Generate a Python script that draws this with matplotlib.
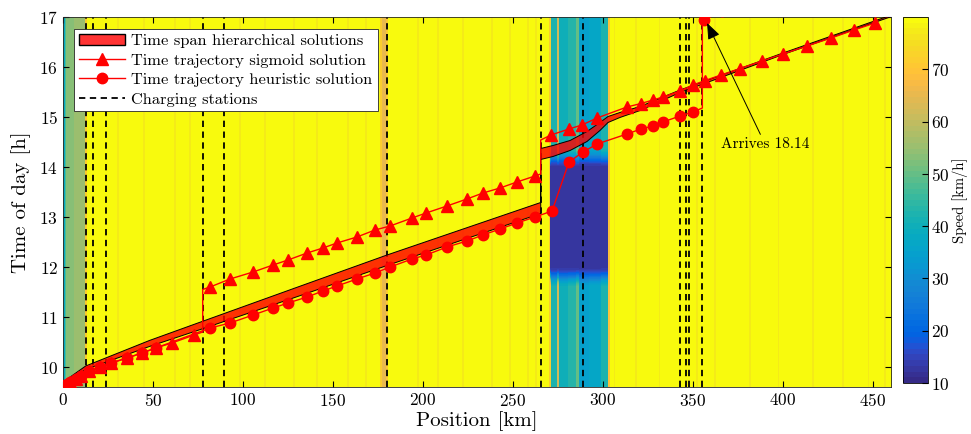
import numpy as np
import matplotlib
matplotlib.use('Agg')
import matplotlib.pyplot as plt
from matplotlib.colors import ListedColormap
from matplotlib.patches import Patch
from matplotlib.lines import Line2D

plt.rcParams['font.family'] = 'serif'
plt.rcParams['font.serif'] = ['cmr10', 'DejaVu Serif']
plt.rcParams['mathtext.fontset'] = 'cm'
plt.rcParams['axes.formatter.use_mathtext'] = True

# ---------------- data ----------------
stations_km = [12.6, 16.5, 23.7, 77.6, 89.6, 180.0, 265.4, 288.7, 342.8, 346.0, 347.5, 355.2]

# sigmoid trajectory (path incl. charging corners)
sig_km = [0, 2, 4, 7, 10, 14.4, 20.6, 26.7, 35.6, 43.9, 51.5, 60.5, 72.8,
          77.6, 77.6,
          81.7, 92.8, 105.6, 116.7, 125.0, 135.6, 144.4, 152.2, 163.3, 173.3, 181.7,
          193.9, 201.7, 213.3, 224.4, 233.3, 242.8, 252.2, 262.2,
          265.4, 265.4,
          271.1, 281.1, 288.3, 296.7, 313.3, 321.1, 327.8, 333.3, 342.8, 350.0,
          356.7, 365.6, 376.1, 388.3, 400.0, 413.3, 426.7, 439.4, 451.1]
sig_t = [9.62, 9.66, 9.70, 9.76, 9.82, 9.92, 10.00, 10.08, 10.18, 10.28, 10.38, 10.48, 10.64,
         10.70, 11.55,
         11.60, 11.76, 11.90, 12.04, 12.14, 12.28, 12.38, 12.48, 12.60, 12.74, 12.82,
         12.98, 13.08, 13.22, 13.36, 13.48, 13.58, 13.70, 13.82,
         13.86, 14.54,
         14.64, 14.76, 14.84, 14.98, 15.20, 15.27, 15.34, 15.40, 15.52, 15.64,
         15.73, 15.84, 15.97, 16.12, 16.26, 16.42, 16.58, 16.74, 16.88]
sig_corners = [13, 14, 34, 35]

# heuristic trajectory
heu_km = [0, 2, 4, 7, 10, 14.4, 20.6, 26.7, 35.6, 43.9, 51.5,
          81.7, 92.8, 105.6, 116.7, 125.0, 135.6, 144.4, 152.2, 163.3, 173.3, 181.7,
          193.9, 201.7, 213.3, 224.4, 233.3, 242.8, 252.2, 262.2, 271.7,
          281.1, 288.9, 296.7, 313.3, 321.1, 327.8, 333.3, 342.8, 350.0,
          355.2, 355.2,
          356.2, 366.0]
heu_t = [9.62, 9.66, 9.70, 9.76, 9.82, 9.92, 10.00, 10.08, 10.18, 10.28, 10.38,
         10.78, 10.88, 11.04, 11.18, 11.28, 11.40, 11.52, 11.62, 11.76, 11.88, 12.00,
         12.16, 12.24, 12.40, 12.52, 12.64, 12.76, 12.88, 13.00, 13.12,
         14.10, 14.30, 14.46, 14.66, 14.76, 14.82, 14.90, 15.02, 15.10,
         15.18, 16.92,
         16.94, 17.12]
heu_corners = [40, 41]

# hierarchical time span (upper / lower boundary)
span_km = [0, 4, 12.6, 48, 78, 132, 180, 265.4, 265.4, 272.2, 281.7, 291.1, 298.3,
           302.8, 309.4, 320.6, 342.8, 400, 459.5]
span_up = [9.68, 9.80, 10.02, 10.53, 10.92, 11.62, 12.24, 13.29, 14.37, 14.43, 14.53,
           14.71, 14.89, 15.01, 15.09, 15.21, 15.54, 16.28, 17.03]
span_lo = [9.64, 9.75, 9.95, 10.41, 10.77, 11.43, 12.03, 13.07, 14.15, 14.21, 14.33,
           14.51, 14.73, 14.89, 14.99, 15.13, 15.49, 16.25, 17.00]

# speed map: default free-flow speed and position segments (km start, km end, km/h)
free_speed = 80.0
speed_segments = [(0.0, 0.5, 45), (0.5, 1.0, 38), (1.0, 1.6, 48), (1.6, 6.0, 53),
                  (6.0, 12.3, 55), (12.3, 13.3, 72),
                  (176.0, 177.0, 72), (177.0, 179.0, 65), (179.0, 180.5, 71),
                  (269.8, 270.8, 72), (270.8, 274.2, 42), (274.2, 275.6, 62),
                  (275.6, 280.0, 40), (280.0, 284.5, 43), (284.5, 286.4, 50),
                  (286.4, 292.0, 35), (292.0, 298.4, 37), (298.4, 302.2, 42),
                  (302.2, 303.4, 70)]
faint_stripes_km = [30.5, 45, 62, 70.5, 98, 112, 128, 141, 158, 168, 197, 208, 222, 238,
                    248, 258, 262.5, 306, 318, 331, 352, 362, 381, 397, 416, 433, 447, 456]
faint_speed = 77.5
# congestion: position range, deep time window and ramp ends (h)
jam_km = (270.5, 302.6)
jam_deep = (12.0, 14.0)
jam_ramp = (11.6, 14.38)
jam_speed = 13.0

# parula colormap (64 entries)
parula_rgb = [
    [0.2081, 0.1663, 0.5292], [0.2116, 0.1898, 0.5777], [0.2123, 0.2138, 0.6270],
    [0.2081, 0.2386, 0.6771], [0.1959, 0.2645, 0.7279], [0.1707, 0.2919, 0.7792],
    [0.1253, 0.3242, 0.8303], [0.0591, 0.3598, 0.8683], [0.0117, 0.3875, 0.8820],
    [0.0060, 0.4086, 0.8828], [0.0165, 0.4266, 0.8786], [0.0329, 0.4430, 0.8720],
    [0.0498, 0.4586, 0.8641], [0.0629, 0.4737, 0.8554], [0.0723, 0.4887, 0.8467],
    [0.0779, 0.5040, 0.8384], [0.0793, 0.5200, 0.8312], [0.0749, 0.5375, 0.8263],
    [0.0641, 0.5570, 0.8240], [0.0488, 0.5772, 0.8228], [0.0343, 0.5966, 0.8199],
    [0.0265, 0.6137, 0.8135], [0.0239, 0.6287, 0.8038], [0.0231, 0.6418, 0.7913],
    [0.0228, 0.6535, 0.7768], [0.0267, 0.6642, 0.7607], [0.0384, 0.6743, 0.7436],
    [0.0590, 0.6838, 0.7254], [0.0843, 0.6928, 0.7062], [0.1133, 0.7015, 0.6859],
    [0.1453, 0.7098, 0.6646], [0.1801, 0.7177, 0.6424], [0.2178, 0.7250, 0.6193],
    [0.2586, 0.7317, 0.5954], [0.3022, 0.7376, 0.5712], [0.3482, 0.7424, 0.5473],
    [0.3953, 0.7459, 0.5244], [0.4420, 0.7481, 0.5033], [0.4871, 0.7491, 0.4840],
    [0.5300, 0.7491, 0.4661], [0.5709, 0.7485, 0.4494], [0.6099, 0.7473, 0.4337],
    [0.6473, 0.7456, 0.4188], [0.6834, 0.7435, 0.4044], [0.7184, 0.7411, 0.3905],
    [0.7525, 0.7384, 0.3768], [0.7858, 0.7356, 0.3633], [0.8185, 0.7327, 0.3498],
    [0.8507, 0.7299, 0.3360], [0.8824, 0.7274, 0.3217], [0.9139, 0.7258, 0.3063],
    [0.9450, 0.7261, 0.2886], [0.9739, 0.7314, 0.2666], [0.9938, 0.7455, 0.2403],
    [0.9990, 0.7653, 0.2164], [0.9955, 0.7861, 0.1967], [0.9880, 0.8066, 0.1794],
    [0.9789, 0.8271, 0.1633], [0.9697, 0.8481, 0.1475], [0.9626, 0.8705, 0.1309],
    [0.9589, 0.8949, 0.1132], [0.9598, 0.9218, 0.0948], [0.9661, 0.9514, 0.0755],
    [0.9763, 0.9831, 0.0538]]
parula = ListedColormap(parula_rgb, name='parula')

# ---------------- speed field ----------------
xc = np.arange(0, 460, 0.25) + 0.125
tc = np.arange(9.6, 17.0, 0.01) + 0.005
base = np.full_like(xc, free_speed)
for s in faint_stripes_km:
    base[np.abs(xc - s) < 0.6] = faint_speed
for a, b, v in speed_segments:
    base[(xc >= a) & (xc < b)] = v

def smooth(u):
    u = np.clip(u, 0, 1)
    return u * u * (3 - 2 * u)

w = np.zeros_like(tc)
w = np.where((tc >= jam_deep[0]) & (tc <= jam_deep[1]), 1.0, w)
low = (tc < jam_deep[0]) & (tc > jam_ramp[0])
w = np.where(low, smooth((tc - jam_ramp[0]) / (jam_deep[0] - jam_ramp[0])), w)
high = (tc > jam_deep[1]) & (tc < jam_ramp[1])
w = np.where(high, smooth((jam_ramp[1] - tc) / (jam_ramp[1] - jam_deep[1])), w)
inzone = (xc >= jam_km[0]) & (xc <= jam_km[1])
S = np.tile(base, (len(tc), 1))
S[:, inzone] = base[inzone][None, :] - (base[inzone][None, :] - jam_speed) * w[:, None]

# ---------------- plot ----------------
fig = plt.figure(figsize=(9.71, 4.34), dpi=100)
ax = fig.add_axes([63 / 971, 47 / 434, 828 / 971, 370 / 434])
cax = fig.add_axes([903 / 971, 51 / 434, 25 / 971, 366 / 434])

im = ax.imshow(S, extent=[0, 460, 9.6, 17.0], origin='lower', aspect='auto',
               cmap=parula, vmin=10, vmax=80, interpolation='nearest', zorder=0)

for s in stations_km:
    ax.axvline(s, color='k', lw=1.3, ls=(0, (3.5, 2.5)), zorder=2)

poly_x = list(span_km) + list(span_km[::-1])
poly_y = list(span_up) + list(span_lo[::-1])
ax.fill(poly_x, poly_y, facecolor=(1, 0, 0, 0.8), edgecolor='k', lw=0.7, zorder=3)

sig_marks = [i for i in range(len(sig_km)) if i not in sig_corners]
heu_marks = [i for i in range(len(heu_km)) if i not in heu_corners]
ax.plot(sig_km, sig_t, color='r', lw=1.0, marker='^', ms=8.5, markevery=sig_marks, zorder=4)
ax.plot(heu_km, heu_t, color='r', lw=1.0, marker='o', ms=7.5, markevery=heu_marks, zorder=5)

ax.annotate('Arrives 18.14', xy=(357.8, 16.88), xytext=(390.0, 14.46),
            ha='center', va='center', fontsize=11,
            arrowprops=dict(arrowstyle='-|>,head_length=0.9,head_width=0.35',
                            color='k', lw=0.7, shrinkA=0, shrinkB=0), zorder=6)

ax.set_xlim(0, 460)
ax.set_ylim(9.6, 17.0)
ax.set_xticks(np.arange(0, 451, 50))
ax.set_yticks(np.arange(10, 18, 1))
ax.tick_params(direction='in', labelsize=12.5, length=4, top=True, right=True)
ax.set_xlabel('Position [km]', fontsize=15, labelpad=2)
ax.set_ylabel('Time of day [h]', fontsize=15, labelpad=6)
for sp in ax.spines.values():
    sp.set_color('#262626')
    sp.set_linewidth(0.6)

cb = fig.colorbar(im, cax=cax, ticks=np.arange(10, 71, 10))
cb.ax.tick_params(direction='in', labelsize=12.5, length=4, pad=2)
cb.outline.set_linewidth(0.6)
cb.set_label('Speed [km/h]', fontsize=10.5, labelpad=2)

handles = [Patch(facecolor=(1, 0, 0, 0.8), edgecolor='k', lw=1.0),
           Line2D([], [], color='r', lw=1.0, marker='^', ms=8.5),
           Line2D([], [], color='r', lw=1.0, marker='o', ms=7.5),
           Line2D([], [], color='k', lw=1.3, ls=(0, (3.5, 2.5)))]
labels = ['Time span hierarchical solutions', 'Time trajectory sigmoid solution',
          'Time trajectory heuristic solution', 'Charging stations']
leg = ax.legend(handles, labels, loc='upper left', bbox_to_anchor=(0.0133, 0.9676),
                borderaxespad=0, fontsize=11.8, frameon=True, fancybox=False,
                framealpha=1, edgecolor='#262626', handlelength=2.8,
                labelspacing=0.3, borderpad=0.3, handletextpad=0.4)
leg.get_frame().set_linewidth(0.6)
leg.set_zorder(10)

fig.savefig('out.png', dpi=100)
